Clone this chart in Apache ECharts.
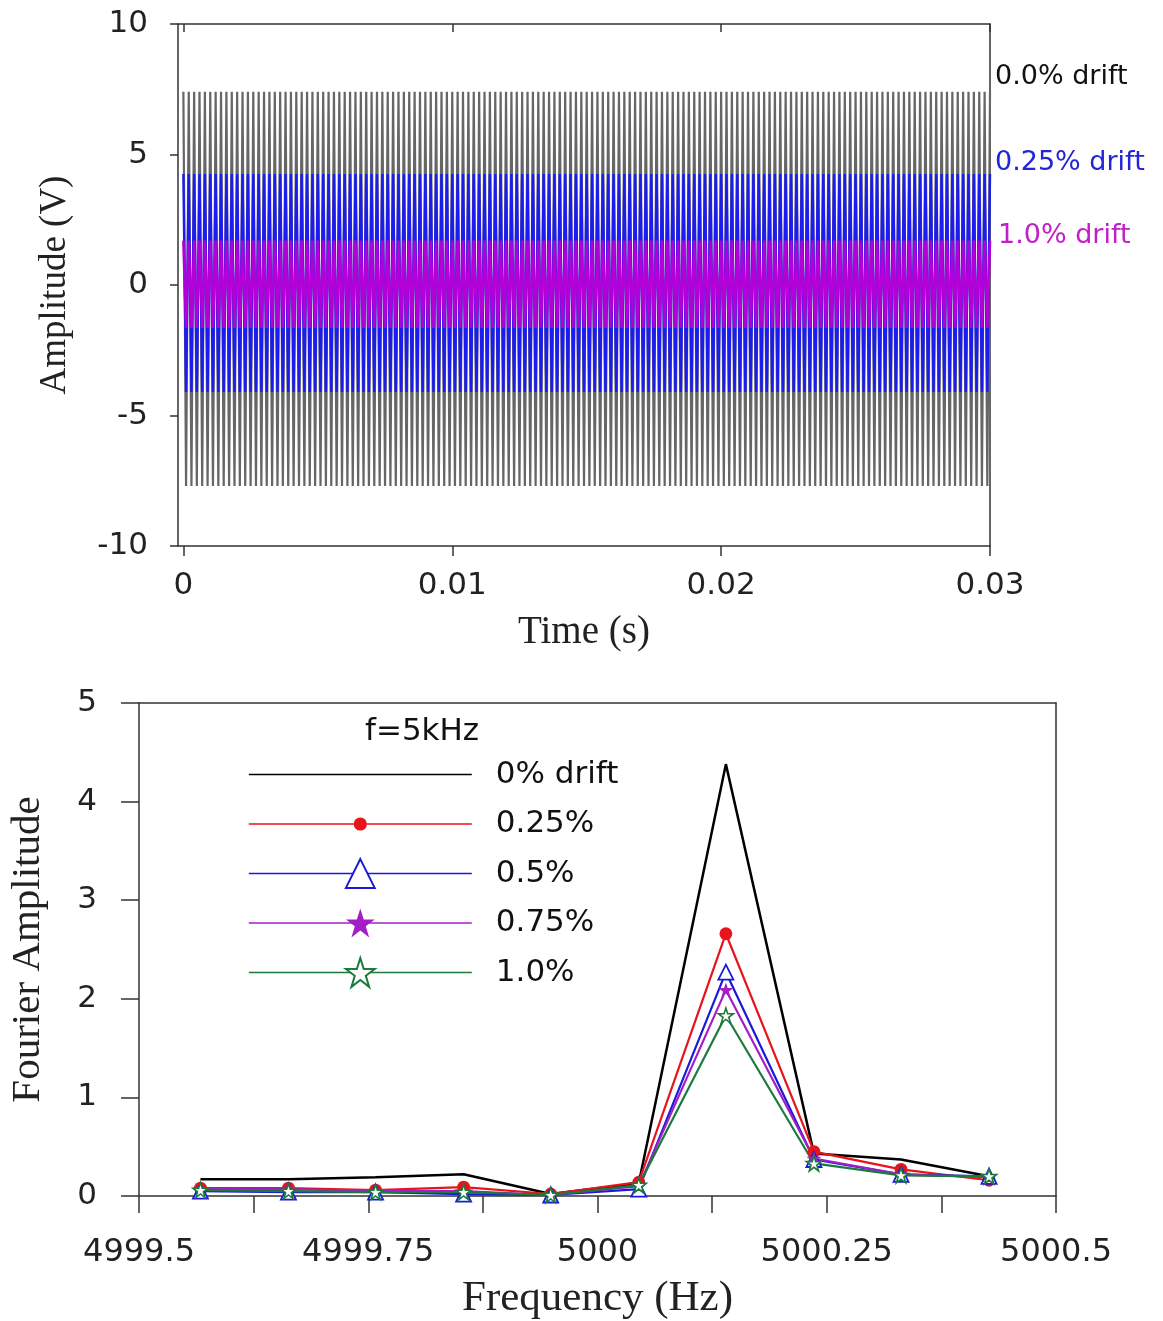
<!DOCTYPE html>
<html>
<head>
<meta charset="utf-8">
<script src="https://cdn.jsdelivr.net/npm/echarts@6/dist/echarts.min.js"></script>
<style>
html,body{margin:0;padding:0;background:#fff;}
#chart{width:1163px;height:1321px;}
</style>
</head>
<body>
<div id="chart"></div>
<script>
// ---------- Top panel: time-domain signals ----------
const timeTickValues = [0, 0.01, 0.02, 0.03];
const timeTickLabels = ['0', '0.01', '0.02', '0.03'];
const ampTickLabels = ['-10', '-5', '0', '5', '10'];
const signalFreqHz = 5000;           // f = 5 kHz
const signalDuration = 0.03;         // s
const driftNames = ['0.0% drift', '0.25% drift', '1.0% drift'];
const posPeaks = [7.4, 4.25, 1.7];   // read positive peaks (V)
const negPeaks = [-7.7, -4.1, -1.65];// read negative peaks (V)
const driftColors = ['#666666', '#1c1cf0', '#b400d8'];

// ---------- Bottom panel: Fourier amplitude ----------
const freqHz = [4999.567, 4999.663, 4999.758, 4999.854, 4999.949, 5000.045, 5000.140, 5000.236, 5000.331, 5000.427];
const fourierDrift0   = [0.17, 0.17, 0.19, 0.22, 0.02, 0.13, 4.38, 0.43, 0.37, 0.20];
const fourierDrift025 = [0.08, 0.08, 0.06, 0.09, 0.02, 0.14, 2.66, 0.45, 0.27, 0.16];
const fourierDrift05  = [0.05, 0.04, 0.04, 0.02, 0.01, 0.07, 2.27, 0.37, 0.22, 0.20];
const fourierDrift075 = [0.07, 0.07, 0.05, 0.05, 0.01, 0.10, 2.09, 0.38, 0.22, 0.19];
const fourierDrift1   = [0.06, 0.05, 0.04, 0.04, 0.01, 0.11, 1.83, 0.33, 0.21, 0.20];
const fourierNames = ['0% drift', '0.25%', '0.5%', '0.75%', '1.0%'];
const freqLabelValues = [4999.5, 4999.75, 5000, 5000.25, 5000.5];

// Build zig-zag peak-to-peak traces from the read peak values
function buildTrace(pos, neg) {
  const half = 1 / (2 * signalFreqHz);
  const n = Math.round(signalDuration / half);
  const pts = [];
  for (let k = 0; k <= n; k++) {
    pts.push([k * half, k % 2 === 0 ? pos : neg]);
  }
  return pts;
}

const SANS = 'DejaVu Sans, Arial, sans-serif';
const SERIF = 'Liberation Serif, Times New Roman, serif';
const AX = '#333';

const circlePath = 'path://M0,0M24,24M6.5,12A5.5,5.5,0,1,1,17.5,12A5.5,5.5,0,1,1,6.5,12Z';
const starPath = 'path://M12,0L14.9,8.6L24,8.6L16.6,14L19.4,22.8L12,17.3L4.6,22.8L7.4,14L0,8.6L9.1,8.6Z';

const chart = echarts.init(document.getElementById('chart'), null, {renderer: 'canvas'});

const topWidths = [2.2, 2.4, 2.6];
const topSeries = driftNames.map((nm, i) => ({
  type: 'line',
  name: nm,
  xAxisIndex: 0, yAxisIndex: 0,
  data: buildTrace(posPeaks[i], negPeaks[i]),
  symbol: 'none',
  lineStyle: {color: driftColors[i], width: topWidths[i]},
  itemStyle: {color: driftColors[i]},
  silent: true,
  z: 2 + i
}));

function fSeries(name, data, color, symbol, size, itemStyle, width) {
  return {
    type: 'line', name: name, xAxisIndex: 2, yAxisIndex: 2,
    data: freqHz.map((f, i) => [f, data[i]]),
    symbol: symbol, symbolSize: size, showSymbol: symbol !== 'none',
    lineStyle: {color: color, width: width},
    itemStyle: itemStyle,
    z: 3
  };
}

const bottomSeries = [
  fSeries(fourierNames[0], fourierDrift0, '#000000', 'none', 0, {color: '#000000'}, 2.5),
  fSeries(fourierNames[1], fourierDrift025, '#e8141c', circlePath, 28, {color: '#e8141c'}, 2.2),
  fSeries(fourierNames[2], fourierDrift05, '#1a1ad8', 'triangle', 15, {color: '#ffffff', borderColor: '#1a1ad8', borderWidth: 1.8}, 2.2),
  fSeries(fourierNames[3], fourierDrift075, '#a41ec8', starPath, 15, {color: '#a41ec8'}, 2.2),
  fSeries(fourierNames[4], fourierDrift1, '#1b7a3c', starPath, 15, {color: '#ffffff', borderColor: '#1b7a3c', borderWidth: 1.6}, 2.2)
];

const option = {
  animation: false,
  backgroundColor: '#fff',
  grid: [
    {left: 178, right: 173, top: 24, bottom: 775, containLabel: false},
    {left: 137, right: 107, top: 703, bottom: 121, containLabel: false}
  ],
  legend: {
    orient: 'vertical',
    left: 243, top: 754,
    itemWidth: 223, itemHeight: 36, itemGap: 18.5,
    selectedMode: false,
    textStyle: {fontFamily: SANS, fontSize: 31, color: '#111', padding: [0, 0, 0, 19]},
    data: [
      {name: fourierNames[0], itemStyle: {opacity: 0}},
      {name: fourierNames[1]},
      {name: fourierNames[2]},
      {name: fourierNames[3]},
      {name: fourierNames[4]}
    ],
    lineStyle: {width: 1.6}
  },
  xAxis: [
    {
      gridIndex: 0, type: 'value', min: -0.0002, max: 0.03, position: 'bottom',
      axisLine: {onZero: false, lineStyle: {color: AX, width: 1.5}},
      axisTick: {customValues: timeTickValues, length: 10, inside: false, lineStyle: {color: AX, width: 1.5}},
      axisLabel: {customValues: timeTickValues, fontFamily: SANS, fontSize: 31, color: '#222', margin: 24,
        formatter: v => timeTickLabels[timeTickValues.findIndex(t => Math.abs(t - v) < 1e-9)] || ''},
      splitLine: {show: false},
      name: 'Time (s)', nameLocation: 'middle', nameGap: 67,
      nameTextStyle: {fontFamily: SERIF, fontSize: 39, color: '#222'}
    },
    {
      gridIndex: 0, type: 'value', min: -0.0002, max: 0.03, position: 'top',
      axisLine: {onZero: false, lineStyle: {color: AX, width: 1.5}},
      axisTick: {customValues: timeTickValues, length: 8, inside: true, lineStyle: {color: AX, width: 1.5}},
      axisLabel: {show: false}, splitLine: {show: false}
    },
    {
      gridIndex: 1, type: 'value', min: 4999.5, max: 5000.5, interval: 0.125, position: 'bottom',
      axisLine: {onZero: false, lineStyle: {color: AX, width: 1.5}},
      axisTick: {length: 17, inside: false, lineStyle: {color: AX, width: 1.5}},
      axisLabel: {customValues: freqLabelValues, fontFamily: SANS, fontSize: 32, color: '#222', margin: 41,
        formatter: v => String(Math.round(v * 100) / 100)},
      splitLine: {show: false},
      name: 'Frequency (Hz)', nameLocation: 'middle', nameGap: 81,
      nameTextStyle: {fontFamily: SERIF, fontSize: 43, color: '#222'}
    },
    {
      gridIndex: 1, type: 'value', min: 4999.5, max: 5000.5, position: 'top',
      axisLine: {onZero: false, lineStyle: {color: AX, width: 1.5}},
      axisTick: {show: false}, axisLabel: {show: false}, splitLine: {show: false}
    }
  ],
  yAxis: [
    {
      gridIndex: 0, type: 'value', min: -10, max: 10, interval: 5, position: 'left',
      axisLine: {show: true, onZero: false, lineStyle: {color: AX, width: 1.5}},
      axisTick: {show: true, length: 8, inside: false, lineStyle: {color: AX, width: 1.5}},
      axisLabel: {fontFamily: SANS, fontSize: 31, color: '#222', margin: 30,
        formatter: v => ampTickLabels[Math.round((v + 10) / 5)]},
      splitLine: {show: false},
      name: 'Amplitude (V)', nameLocation: 'middle', nameGap: 104,
      nameTextStyle: {fontFamily: SERIF, fontSize: 37, color: '#222'}
    },
    {
      gridIndex: 0, type: 'value', min: -10, max: 10, position: 'right',
      axisLine: {show: true, onZero: false, lineStyle: {color: AX, width: 1.5}},
      axisTick: {show: false}, axisLabel: {show: false}, splitLine: {show: false}
    },
    {
      gridIndex: 1, type: 'value', min: 0, max: 5, interval: 1, position: 'left',
      axisLine: {show: true, onZero: false, lineStyle: {color: AX, width: 1.5}},
      axisTick: {show: true, length: 18, inside: false, lineStyle: {color: AX, width: 1.5}},
      axisLabel: {fontFamily: SANS, fontSize: 31, color: '#222', margin: 42},
      splitLine: {show: false},
      name: 'Fourier Amplitude', nameLocation: 'middle', nameGap: 90,
      nameTextStyle: {fontFamily: SERIF, fontSize: 41, color: '#222'}
    },
    {
      gridIndex: 1, type: 'value', min: 0, max: 5, position: 'right',
      axisLine: {show: true, onZero: false, lineStyle: {color: AX, width: 1.5}},
      axisTick: {show: false}, axisLabel: {show: false}, splitLine: {show: false}
    }
  ],
  graphic: [
    {type: 'text', x: 995, y: 77, style: {text: driftNames[0], fill: '#111', font: '27px ' + SANS, verticalAlign: 'middle'}},
    {type: 'text', x: 995, y: 163, style: {text: driftNames[1], fill: '#2424d8', font: '27px ' + SANS, verticalAlign: 'middle'}},
    {type: 'text', x: 998, y: 236, style: {text: driftNames[2], fill: '#c020c8', font: '27px ' + SANS, verticalAlign: 'middle'}},
    {type: 'text', x: 365, y: 732, style: {text: 'f=5kHz', fill: '#111', font: '31px ' + SANS, verticalAlign: 'middle'}}
  ],
  series: topSeries.concat(bottomSeries)
};

chart.setOption(option);
</script>
</body>
</html>
